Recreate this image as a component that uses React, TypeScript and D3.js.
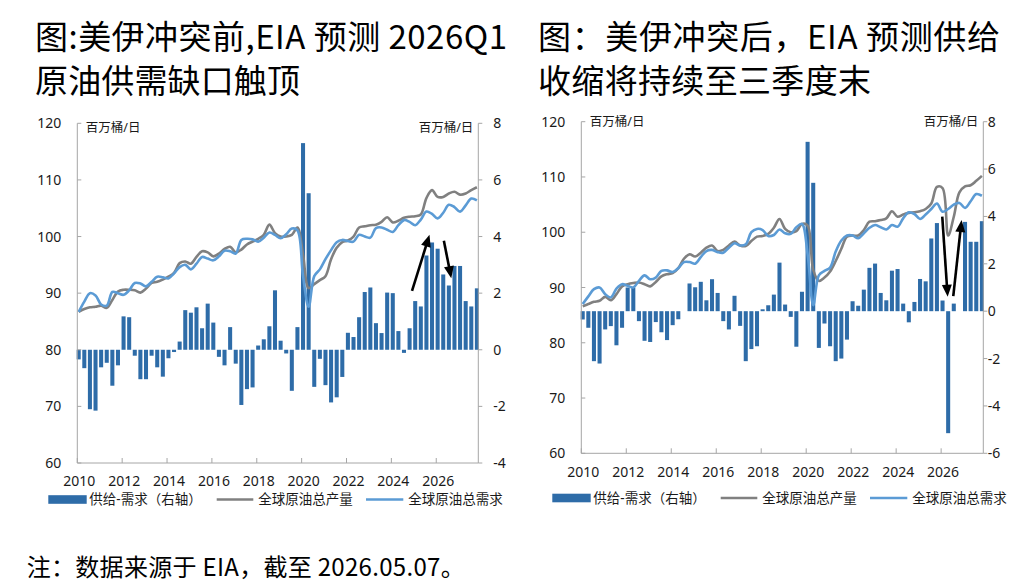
import React from "react";
import * as d3 from "d3";

// quarterly series, 2010Q1 .. 2027Q4 (72 points each)
const START_YEAR = 2010;
const AXIS_END = 2027.875;

const yearTicks = [2010, 2012, 2014, 2016, 2018, 2020, 2022, 2024, 2026];
const leftTicks = [60, 70, 80, 90, 100, 110, 120];
const rightTicksBefore = [-4, -2, 0, 2, 4, 6, 8];
const rightTicksAfter = [-6, -4, -2, 0, 2, 4, 6, 8];

const legendLabels = ["供给-需求（右轴）", "全球原油总产量", "全球原油总需求"];
const unitLabel = "百万桶/日";

// before the US-Iran conflict
const gapBefore = [
  -0.34, -0.65, -2.1, -2.15, -0.62, -0.46, -1.27, -0.55, 1.18, 1.15,
  -0.21, -1.04, -1.04, -0.21, -0.62, -0.95, -0.3, -0.08, 0.29, 1.4,
  1.31, 1.5, 0.76, 1.63, 0.96, -0.25, -0.55, 0.8, -0.49, -1.95,
  -1.39, -1.33, 0.15, 0.37, 0.83, 2.1, 0.32, -0.13, -1.45, 0.8,
  7.3, 5.53, -1.31, -0.32, -1.25, -1.86, -1.68, -0.96, 0.6, 0.45,
  1.15, 2.04, 2.2, 0.94, 0.59, 2.02, 2.0, 0.66, -0.11, 0.76,
  1.72, 1.53, 3.33, 3.79, 3.57, 2.66, 2.27, 2.96, 2.96, 1.72,
  1.53, 2.17,
];
const supplyBefore = [
  86.7, 87.2, 87.5, 87.6, 87.8, 87.4, 88.8, 90.3, 90.6, 90.6,
  90.5, 90.1, 90.8, 91.8, 92.0, 92.4, 92.9, 93.6, 95.3, 95.6,
  95.2, 96.4, 97.4, 97.2, 96.5, 97.0, 97.8, 98.2, 97.2, 97.7,
  98.6, 99.1, 99.6, 100.3, 102.1, 100.6, 100.0, 100.0, 100.3, 101.6,
  96.8, 90.9, 91.6, 92.3, 93.0, 96.0, 98.0, 99.0, 99.3, 100.0,
  101.6, 101.8, 102.0, 102.1, 102.6, 103.4, 102.5, 102.8, 103.3, 103.5,
  103.6, 103.9, 106.8, 108.2, 107.0, 107.0, 107.6, 107.9, 107.4, 107.6,
  108.2, 108.7,
];
const demandBefore = [
  86.7, 88.5, 90.0, 89.6, 88.0, 87.8, 90.2, 90.0, 89.7, 90.5,
  91.8, 91.7, 91.2, 92.0, 92.9, 92.8, 92.6, 93.5, 94.6, 95.0,
  94.2, 95.2, 96.4, 96.1, 95.8, 96.5, 97.5, 97.4, 97.0, 99.4,
  99.6, 99.5, 99.1, 99.8, 100.7, 100.3, 99.7, 100.4, 101.4, 101.1,
  93.0, 87.6, 93.0, 94.2, 96.0, 97.6, 99.0, 99.4, 99.2, 99.1,
  100.3, 100.0, 99.8, 101.5, 101.6, 101.2, 100.8, 102.0, 102.9, 102.6,
  102.0, 103.0, 104.4, 104.0, 103.2, 104.2, 105.6, 105.2, 104.4, 105.5,
  106.7, 106.4,
];

// after the US-Iran conflict
const gapAfter = [
  -0.35, -0.7, -2.11, -2.21, -0.77, -0.63, -1.44, -0.7, 1.0, 1.0,
  -0.42, -1.25, -1.3, -0.46, -0.89, -1.22, -0.59, -0.34, 0.0, 1.17,
  1.01, 1.24, 0.46, 1.35, 0.77, -0.42, -0.77, 0.65, -0.62, -2.11,
  -1.6, -1.48, 0.08, 0.25, 0.7, 2.05, 0.28, -0.24, -1.5, 0.82,
  7.15, 5.42, -1.55, -0.52, -1.48, -2.11, -2.0, -1.2, 0.42, 0.23,
  0.91, 1.83, 2.01, 0.77, 0.46, 1.71, 1.78, 0.32, -0.47, 0.39,
  1.36, 1.26, 3.07, 3.72, 0.45, -5.15, 0.32, 0.0, 3.77, 2.93,
  2.93, 3.8,
];
const supplyAfter = [
  86.6, 87.0, 87.4, 87.6, 88.3, 87.7, 88.8, 90.2, 90.6, 90.8,
  90.9, 90.6, 90.2, 91.0, 92.0, 92.4, 92.6, 93.5, 95.2, 96.0,
  95.6, 96.3, 97.2, 97.6, 96.6, 96.8, 97.6, 98.3, 97.6, 97.5,
  98.4, 99.2, 99.3, 99.7, 100.8, 102.4, 100.6, 100.0, 100.2, 101.5,
  101.2, 93.2, 91.2, 91.8, 92.9, 94.8, 97.0, 99.2, 99.4, 99.4,
  100.4, 101.9, 102.0, 102.2, 102.5, 103.8, 102.8, 103.2, 103.5, 103.6,
  103.8, 104.2, 105.2, 108.2, 108.0, 99.4, 102.8, 107.2, 108.3, 108.5,
  109.3, 110.2,
];
const demandAfter = [
  87.0, 88.4, 89.7, 90.0, 88.8, 88.2, 89.8, 90.6, 90.3, 90.0,
  91.2, 92.2, 91.5, 91.8, 93.0, 93.1, 92.8, 93.5, 94.6, 94.6,
  94.3, 95.5, 96.6, 96.8, 96.4, 96.3, 97.2, 98.0, 97.6, 97.8,
  100.0, 100.6, 100.4, 99.3, 99.5, 100.5, 99.8, 99.7, 100.9, 101.5,
  96.0, 86.8, 92.2, 93.0, 93.6, 96.5, 98.5, 99.4, 99.4, 98.9,
  99.8, 100.8, 101.3, 100.9, 100.5, 101.3, 101.0, 102.5, 103.6, 103.3,
  102.4, 103.2, 104.2, 105.2, 103.7, 104.2, 105.0, 105.3, 104.4, 105.6,
  106.9, 106.6,
];

// annotation arrows: [year, right-axis value]
const arrowsBefore = [
  { from: [2024.92, 2.08], to: [2025.7, 4.06] },
  { from: [2026.34, 3.85], to: [2026.67, 2.53] },
];
const arrowsAfter = [
  { from: [2026.05, 3.99], to: [2026.29, 0.61] },
  { from: [2026.54, 0.64], to: [2026.91, 3.85] },
];

const BAR = "#2e6ca8";
const GRAY = "#808080";
const BLUE = "#5b9bd5";
const AXIS = "#a6a6a6";
const TEXT = "#1a1a1a";
const CJK = '"Noto Sans CJK SC", sans-serif';
const SANS = '"Noto Sans", "Noto Sans CJK SC", sans-serif';

type Layout = {
  x0: number; x1: number; top: number; bottom: number;
  xLabelY: number; legendY: number; rightLabelDx: number; unitY: number;
};

const Arrow = ({ p0, p1 }: { p0: number[]; p1: number[] }) => {
  const dx = p1[0] - p0[0];
  const dy = p1[1] - p0[1];
  const len = Math.hypot(dx, dy);
  const ux = dx / len, uy = dy / len;
  const head = 12, half = 5;
  const bx = p1[0] - ux * head, by = p1[1] - uy * head;
  const pts = [
    [p1[0], p1[1]],
    [bx - uy * half, by + ux * half],
    [bx + uy * half, by - ux * half],
  ];
  return (
    <g>
      <line x1={p0[0]} y1={p0[1]} x2={p1[0] - ux * 8} y2={p1[1] - uy * 8} stroke="#000" strokeWidth={2.6} />
      <polygon points={pts.map((p) => p.join(",")).join(" ")} fill="#000" />
    </g>
  );
};

const Panel = ({ gap, supply, demand, rightTicks, layout, arrows }: {
  gap: number[]; supply: number[]; demand: number[]; rightTicks: number[];
  layout: Layout; arrows: { from: number[]; to: number[] }[];
}) => {
  const { x0, x1, top, bottom, xLabelY, legendY, rightLabelDx, unitY } = layout;
  const x = d3.scaleLinear().domain([START_YEAR, AXIS_END]).range([x0, x1]);
  const yL = d3.scaleLinear().domain([60, 120]).range([bottom, top]);
  const yR = d3.scaleLinear()
    .domain([rightTicks[0], rightTicks[rightTicks.length - 1]])
    .range([bottom, top]);
  const tq = (i: number) => START_YEAR + (i + 0.25) / 4;
  const barW = (x(START_YEAR + 0.25) - x(START_YEAR)) * 0.72;

  const line = d3.line<number>()
    .x((_, i) => x(tq(i)))
    .y((d) => yL(d))
    .curve(d3.curveCatmullRom.alpha(0.5));

  return (
    <g>
      {/* bars on the right axis */}
      {gap.map((v, i) => (
        <rect key={i} x={x(tq(i)) - barW / 2} y={Math.min(yR(v), yR(0))}
          width={barW} height={Math.abs(yR(v) - yR(0))} fill={BAR} />
      ))}
      <path d={line(supply) || ""} fill="none" stroke={GRAY} strokeWidth={2.6} strokeLinejoin="round" />
      <path d={line(demand) || ""} fill="none" stroke={BLUE} strokeWidth={2.6} strokeLinejoin="round" />

      {/* axes */}
      <line x1={x0} y1={top} x2={x0} y2={bottom} stroke={AXIS} />
      <line x1={x1} y1={top} x2={x1} y2={bottom} stroke={AXIS} />
      <line x1={x0} y1={bottom} x2={x1} y2={bottom} stroke={AXIS} />
      {leftTicks.map((t) => (
        <g key={t}>
          <line x1={x0} x2={x0 + 4} y1={yL(t)} y2={yL(t)} stroke={AXIS} />
          <text x={x0 - 16} y={yL(t)} dy="0.36em" textAnchor="end" fontSize={14} fontFamily={SANS} fill={TEXT}>{t}</text>
        </g>
      ))}
      {rightTicks.map((t) => (
        <g key={t}>
          <line x1={x1} x2={x1 + 4} y1={yR(t)} y2={yR(t)} stroke={AXIS} />
          <text x={x1 + rightLabelDx} y={yR(t)} dy="0.36em" fontSize={14} fontFamily={SANS} fill={TEXT}>{t}</text>
        </g>
      ))}
      {yearTicks.map((t) => (
        <g key={t}>
          <line x1={x(t)} x2={x(t)} y1={bottom} y2={bottom - 5} stroke={AXIS} />
          <text x={x(t) + 2} y={xLabelY} textAnchor="middle" fontSize={14} fontFamily={SANS} fill={TEXT}>{t}</text>
        </g>
      ))}
      <text x={x0 + 8.5} y={unitY} fontSize={12.5} fontFamily={SANS} fill={TEXT}>{unitLabel}</text>
      <text x={x1 - 5} y={unitY} textAnchor="end" fontSize={12.5} fontFamily={SANS} fill={TEXT}>{unitLabel}</text>

      {arrows.map((a, i) => (
        <Arrow key={i} p0={[x(a.from[0]), yR(a.from[1])]} p1={[x(a.to[0]), yR(a.to[1])]} />
      ))}

      {/* legend */}
      <rect x={x0 - 29} y={legendY - 4.3} width={38.4} height={8.6} fill={BAR} />
      <text x={x0 + 12} y={legendY} dy="0.36em" fontSize={13.5} fontFamily={SANS} fill={TEXT}>{legendLabels[0]}</text>
      <line x1={x0 + 139.4} x2={x0 + 176} y1={legendY} y2={legendY} stroke={GRAY} strokeWidth={2.6} />
      <text x={x0 + 181} y={legendY} dy="0.36em" fontSize={13.5} fontFamily={SANS} fill={TEXT}>{legendLabels[1]}</text>
      <line x1={x0 + 288.7} x2={x0 + 326} y1={legendY} y2={legendY} stroke={BLUE} strokeWidth={2.6} />
      <text x={x0 + 331} y={legendY} dy="0.36em" fontSize={13.5} fontFamily={SANS} fill={TEXT}>{legendLabels[2]}</text>
    </g>
  );
};

const App = () => {
  const leftLayout: Layout = {
    x0: 77.3, x1: 478.3, top: 123.3, bottom: 463,
    xLabelY: 486, legendY: 499.5, rightLabelDx: 15, unitY: 132,
  };
  const rightLayout: Layout = {
    x0: 581.3, x1: 983.3, top: 121.7, bottom: 453.3,
    xLabelY: 476.5, legendY: 498, rightLabelDx: 4.5, unitY: 126,
  };
  return (
    <svg width={1036} height={588} viewBox="0 0 1036 588"
      style={{ position: "absolute", left: 0, top: 0, background: "#fff" }}>
      <rect width={1036} height={588} fill="#fff" />
      <g fontFamily={CJK} fontSize={33} fontWeight={400} fill="#000">
        <text x={35} y={49} textLength={472} lengthAdjust="spacing">图:美伊冲突前,EIA 预测 2026Q1</text>
        <text x={35} y={92.5} textLength={265} lengthAdjust="spacing">原油供需缺口触顶</text>
        <text x={538} y={49} textLength={462} lengthAdjust="spacing">图：美伊冲突后，EIA 预测供给</text>
        <text x={538} y={92.5} textLength={333} lengthAdjust="spacing">收缩将持续至三季度末</text>
      </g>
      <Panel gap={gapBefore} supply={supplyBefore} demand={demandBefore}
        rightTicks={rightTicksBefore} layout={leftLayout} arrows={arrowsBefore} />
      <Panel gap={gapAfter} supply={supplyAfter} demand={demandAfter}
        rightTicks={rightTicksAfter} layout={rightLayout} arrows={arrowsAfter} />
      <text x={26.7} y={575.5} fontFamily={CJK} fontSize={24} fill="#000" textLength={438} lengthAdjust="spacing">
        注：数据来源于 EIA，截至 2026.05.07。
      </text>
    </svg>
  );
};

export default App;
